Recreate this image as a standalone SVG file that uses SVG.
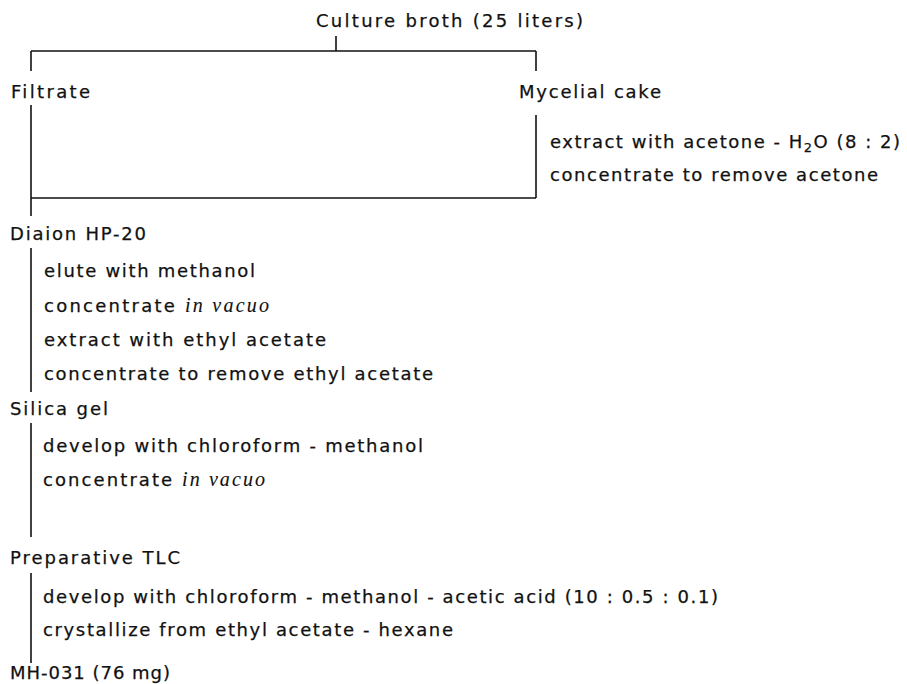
<svg xmlns="http://www.w3.org/2000/svg" width="907" height="684" viewBox="0 0 907 684">
<style>
text{font-family:"DejaVu Sans","Liberation Sans",sans-serif;font-size:18px;fill:#111;stroke:#111;stroke-width:0.25;}
.it{font-family:"Liberation Serif","DejaVu Serif",serif;font-style:italic;font-size:20px;stroke-width:0.1;}
.sub{font-size:13px;}
line{stroke:#111;stroke-width:1.6;fill:none;}
</style>
<rect width="907" height="684" fill="#fff"/>
<g id="connectors">
<line x1="336" y1="36" x2="336" y2="51"/>
<line x1="31" y1="51" x2="536" y2="51"/>
<line x1="31" y1="51" x2="31" y2="71"/>
<line x1="536" y1="51" x2="536" y2="71"/>
<line x1="31" y1="105" x2="31" y2="216"/>
<line x1="536" y1="115" x2="536" y2="198"/>
<line x1="31" y1="198" x2="536" y2="198"/>
<line x1="31" y1="248" x2="31" y2="392"/>
<line x1="31" y1="423" x2="31" y2="537"/>
<line x1="31" y1="573" x2="31" y2="663"/>
</g>
<g id="culture"><text x="316" y="27" textLength="267" lengthAdjust="spacing">Culture broth (25 liters)</text></g>
<g id="filtrate"><text x="11" y="98" textLength="79" lengthAdjust="spacing">Filtrate</text></g>
<g id="mycelial"><text x="519" y="98" textLength="142" lengthAdjust="spacing">Mycelial cake</text></g>
<g id="mycelial-steps">
<text x="550" y="148" textLength="350" lengthAdjust="spacing">extract with acetone - H<tspan class="sub" dy="4">2</tspan><tspan dy="-4">O (8 : 2)</tspan></text>
<text x="550" y="181" textLength="328" lengthAdjust="spacing">concentrate to remove acetone</text>
</g>
<g id="diaion"><text x="10" y="240" textLength="136" lengthAdjust="spacing">Diaion HP-20</text></g>
<g id="diaion-steps">
<text x="44" y="277" textLength="211" lengthAdjust="spacing">elute with methanol</text>
<text x="44" y="312" textLength="225" lengthAdjust="spacing">concentrate <tspan class="it">in vacuo</tspan></text>
<text x="44" y="346" textLength="282" lengthAdjust="spacing">extract with ethyl acetate</text>
<text x="44" y="380" textLength="389" lengthAdjust="spacing">concentrate to remove ethyl acetate</text>
</g>
<g id="silica"><text x="10" y="415" textLength="98" lengthAdjust="spacing">Silica gel</text></g>
<g id="silica-steps">
<text x="43" y="452" textLength="380" lengthAdjust="spacing">develop with chloroform - methanol</text>
<text x="43" y="486" textLength="222" lengthAdjust="spacing">concentrate <tspan class="it">in vacuo</tspan></text>
</g>
<g id="tlc"><text x="10" y="564" textLength="170" lengthAdjust="spacing">Preparative TLC</text></g>
<g id="tlc-steps">
<text x="43" y="603" textLength="675" lengthAdjust="spacing">develop with chloroform - methanol - acetic acid (10 : 0.5 : 0.1)</text>
<text x="43" y="636" textLength="410" lengthAdjust="spacing">crystallize from ethyl acetate - hexane</text>
</g>
<g id="product"><text x="10" y="679" textLength="160" lengthAdjust="spacing">MH-031 (76 mg)</text></g>
</svg>
